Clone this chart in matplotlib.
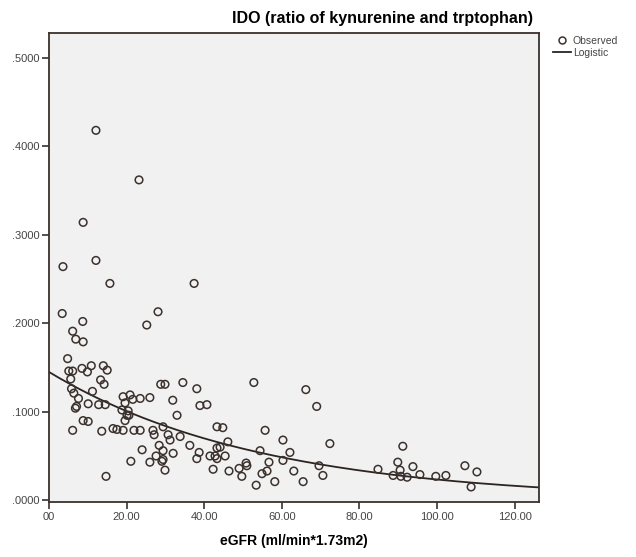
import numpy as np
import matplotlib
matplotlib.use("Agg")
import matplotlib.pyplot as plt
from matplotlib.lines import Line2D
from matplotlib.ticker import FuncFormatter

plt.rcParams['font.family'] = ['Liberation Sans', 'DejaVu Sans']

egfr = [12.1, 23.2, 8.8, 3.6, 12.1, 15.7, 37.4, 3.4, 28.1, 8.7, 25.2, 6.1, 6.9, 8.8, 4.8,
        5.1, 6.1, 8.5, 9.9, 10.9, 14.0, 15.0, 5.6, 13.3, 14.2, 28.8, 29.9, 34.5, 38.1, 52.8, 66.2, 69.0,
        5.8, 6.4, 7.6, 11.2, 10.1, 6.8, 7.1, 12.8, 14.5,
        19.1, 20.9, 21.6, 23.5, 26.0, 19.6, 20.4, 18.8, 20.6,
        31.9, 33.0, 38.9, 40.7,
        8.8, 10.1, 6.1, 13.6, 16.5, 17.5, 19.1, 21.9, 23.5, 26.8, 27.1, 29.4, 30.7, 31.2, 33.8, 19.6, 20.1,
        43.3, 44.8, 46.1, 43.3, 44.1, 36.3, 38.7, 28.4, 29.4, 32.0, 24.0, 21.1, 26.0, 27.6, 29.1, 29.4,
        29.9, 38.1, 41.5, 42.8, 43.3, 45.4, 42.3, 46.4, 49.0, 49.7, 50.8, 51.0, 53.4, 54.4, 54.9, 56.2,
        55.7, 56.7, 58.2, 60.3, 60.3, 62.1, 63.1, 65.5, 14.7,
        72.4, 69.6, 70.6, 84.8, 91.2, 89.9, 90.5, 88.7, 90.7, 92.3, 93.8, 95.6, 99.7, 102.3, 107.2,
        110.3, 108.8]
ido = [0.418, 0.362, 0.314, 0.264, 0.271, 0.245, 0.245, 0.211, 0.213, 0.202, 0.198, 0.191, 0.182, 0.179, 0.160,
       0.146, 0.146, 0.149, 0.145, 0.152, 0.152, 0.147, 0.137, 0.136, 0.131, 0.131, 0.131, 0.133, 0.126, 0.133, 0.125, 0.106,
       0.126, 0.121, 0.115, 0.123, 0.109, 0.104, 0.106, 0.108, 0.108,
       0.117, 0.119, 0.114, 0.115, 0.116, 0.110, 0.101, 0.102, 0.096,
       0.113, 0.096, 0.107, 0.108,
       0.090, 0.089, 0.079, 0.078, 0.081, 0.080, 0.079, 0.079, 0.079, 0.079, 0.074, 0.083, 0.074, 0.068, 0.072, 0.090, 0.096,
       0.083, 0.082, 0.066, 0.059, 0.060, 0.062, 0.054, 0.062, 0.056, 0.053, 0.057, 0.044, 0.043, 0.050, 0.044, 0.046,
       0.034, 0.047, 0.050, 0.050, 0.047, 0.050, 0.035, 0.033, 0.036, 0.027, 0.042, 0.039, 0.017, 0.056, 0.030, 0.033,
       0.079, 0.043, 0.021, 0.045, 0.068, 0.054, 0.033, 0.021, 0.027,
       0.064, 0.039, 0.028, 0.035, 0.061, 0.043, 0.034, 0.028, 0.027, 0.026, 0.038, 0.029, 0.027, 0.028, 0.039,
       0.032, 0.015]

# logistic model (no upper bound): y = 1 / (b0 * b1**x)
b0 = 6.9
b1 = 1.0184

y_ticks = [0.0, 0.1, 0.2, 0.3, 0.4, 0.5]
x_ticks = [0, 20, 40, 60, 80, 100, 120]

edge = '#3b312d'

fig = plt.figure(figsize=(6.36, 5.57), dpi=100)
ax = fig.add_axes([49 / 636, 55 / 557, 490 / 636, 469 / 557])
ax.set_facecolor('#f1f1f1')

ax.scatter(egfr, ido, s=30, facecolors='none', edgecolors=edge, linewidths=1.1, zorder=3)

xs = np.linspace(0, 126.3, 300)
ax.plot(xs, 1.0 / (b0 * b1 ** xs), color='#2b2421', lw=1.3, zorder=2)

ax.set_xlim(0, 126.3)
ax.set_ylim(-0.002, 0.528)
ax.set_xticks(x_ticks)
ax.set_yticks(y_ticks)
ax.xaxis.set_major_formatter(FuncFormatter(lambda v, p: '00' if v == 0 else f'{v:.2f}'))
ax.yaxis.set_major_formatter(FuncFormatter(lambda v, p: f'{v:.4f}'.lstrip('0')))
ax.tick_params(axis='both', direction='out', length=5, width=1.2, color=edge,
               labelsize=8, labelcolor='#444444', pad=2)
for s in ax.spines.values():
    s.set_color(edge)
    s.set_linewidth(1.3)

ax.set_xlabel('eGFR (ml/min*1.73m2)', fontsize=10, fontweight='bold', labelpad=9)
fig.text(533 / 636, 1 - 19 / 557, 'IDO (ratio of kynurenine and trptophan)', ha='right', va='center',
         fontsize=11.5, fontweight='bold')

handles = [Line2D([], [], marker='o', ls='none', mfc='none', mec=edge, ms=5, mew=1.1),
           Line2D([], [], color='#2b2421', lw=1.3)]
fig.legend(handles, ['Observed', 'Logistic'], loc='upper left', bbox_to_anchor=(553 / 636, 1 - 36 / 557),
           frameon=False, fontsize=7.5, handlelength=1.7, handletextpad=0.2, labelspacing=0.15,
           borderaxespad=0, borderpad=0, labelcolor='#444444')

fig.savefig('out.png', dpi=100, facecolor='white')
